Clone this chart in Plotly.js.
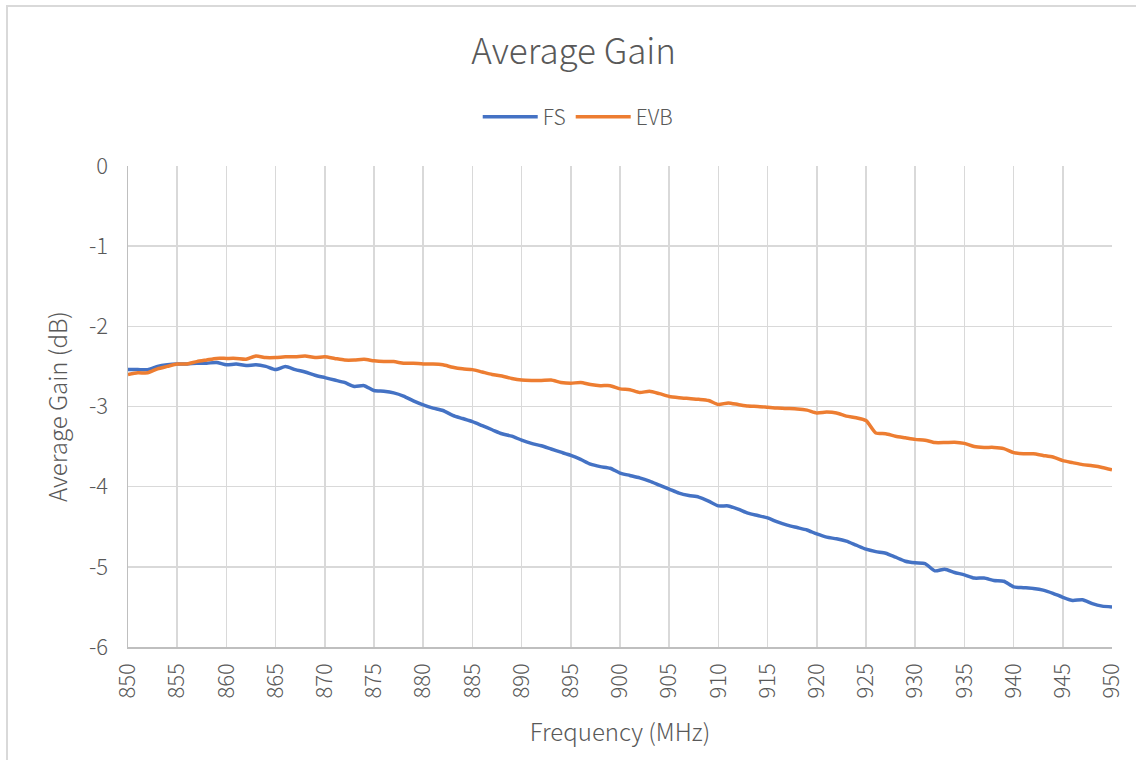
<!DOCTYPE html>
<html>
<head>
<meta charset="utf-8">
<script src="https://cdn.plot.ly/plotly-3.0.1.min.js"></script>
<style>
html,body{margin:0;padding:0;background:#fff;overflow:hidden;}
#chart{position:absolute;left:0;top:0;width:1136px;height:760px;}
#frame{position:absolute;left:6px;top:5px;width:1200px;height:800px;border:2px solid #d9d9d9;pointer-events:none;box-sizing:border-box;}
</style>
</head>
<body>
<div id="chart"></div>
<div id="frame"></div>
<script>
const freq = [850,851,852,853,854,855,856,857,858,859,860,861,862,863,864,865,866,867,868,869,
870,871,872,873,874,875,876,877,878,879,880,881,882,883,884,885,886,887,888,889,
890,891,892,893,894,895,896,897,898,899,900,901,902,903,904,905,906,907,908,909,
910,911,912,913,914,915,916,917,918,919,920,921,922,923,924,925,926,927,928,929,
930,931,932,933,934,935,936,937,938,939,940,941,942,943,944,945,946,947,948,949,950];

const fsGain = [-2.54,-2.54,-2.54,-2.50,-2.48,-2.47,-2.47,-2.46,-2.46,-2.45,
-2.48,-2.47,-2.49,-2.48,-2.50,-2.54,-2.50,-2.54,-2.57,-2.61,
-2.64,-2.67,-2.70,-2.75,-2.74,-2.80,-2.81,-2.83,-2.87,-2.93,
-2.98,-3.02,-3.05,-3.11,-3.15,-3.19,-3.24,-3.29,-3.34,-3.37,
-3.42,-3.46,-3.49,-3.53,-3.57,-3.61,-3.66,-3.72,-3.75,-3.77,
-3.83,-3.86,-3.89,-3.93,-3.98,-4.03,-4.08,-4.11,-4.13,-4.18,
-4.24,-4.24,-4.28,-4.33,-4.36,-4.39,-4.44,-4.48,-4.51,-4.54,
-4.59,-4.63,-4.65,-4.68,-4.73,-4.78,-4.81,-4.83,-4.88,-4.93,
-4.95,-4.96,-5.05,-5.03,-5.07,-5.10,-5.14,-5.14,-5.17,-5.18,
-5.25,-5.26,-5.27,-5.29,-5.33,-5.38,-5.42,-5.41,-5.46,-5.49,-5.50];

const evbGain = [-2.60,-2.58,-2.58,-2.53,-2.50,-2.47,-2.47,-2.44,-2.42,-2.40,
-2.40,-2.40,-2.41,-2.37,-2.39,-2.39,-2.38,-2.38,-2.37,-2.39,
-2.38,-2.40,-2.42,-2.42,-2.41,-2.43,-2.44,-2.44,-2.46,-2.46,
-2.47,-2.47,-2.48,-2.51,-2.53,-2.54,-2.57,-2.60,-2.62,-2.65,
-2.67,-2.675,-2.675,-2.67,-2.70,-2.71,-2.70,-2.725,-2.74,-2.74,
-2.78,-2.79,-2.825,-2.81,-2.84,-2.875,-2.89,-2.90,-2.91,-2.925,
-2.975,-2.955,-2.975,-2.995,-3.00,-3.01,-3.02,-3.025,-3.03,-3.045,
-3.08,-3.07,-3.08,-3.12,-3.14,-3.175,-3.33,-3.34,-3.37,-3.39,
-3.41,-3.42,-3.45,-3.45,-3.445,-3.46,-3.50,-3.51,-3.51,-3.525,
-3.575,-3.59,-3.59,-3.61,-3.63,-3.675,-3.70,-3.725,-3.74,-3.76,-3.79];

const xTicks = [850,855,860,865,870,875,880,885,890,895,900,905,910,915,920,925,930,935,940,945,950];
const yTicks = [0,-1,-2,-3,-4,-5,-6];

const FONT = 'DengXian, "Noto Sans CJK SC", "Open Sans", sans-serif';
const TXT = '#595959';
const W = 300;

const traces = [
  {x: freq, y: fsGain, name: 'FS', type: 'scatter', mode: 'lines',
   line: {color: '#4472C4', width: 3.5, shape: 'spline', smoothing: 0.6}},
  {x: freq, y: evbGain, name: 'EVB', type: 'scatter', mode: 'lines',
   line: {color: '#ED7D31', width: 3.5, shape: 'spline', smoothing: 0.6}}
];

const layout = {
  width: 1136, height: 760,
  margin: {l: 128, r: 24, t: 166, b: 113},
  paper_bgcolor: '#ffffff', plot_bgcolor: '#ffffff',
  font: {family: FONT, color: TXT, size: 21, weight: W},
  title: {text: 'Average Gain', font: {family: FONT, size: 35, color: TXT, weight: W},
          xref: 'container', x: 0.505, xanchor: 'center',
          yref: 'container', y: 1 - 52/760, yanchor: 'middle'},
  showlegend: true,
  legend: {orientation: 'h', xref: 'container', x: 0.509, xanchor: 'center',
           yref: 'container', y: 1 - 117/760, yanchor: 'middle',
           font: {family: FONT, size: 21, color: TXT, weight: W}, itemwidth: 55, tracegroupgap: 0},
  xaxis: {
    range: [850, 950], tickvals: xTicks, ticktext: xTicks.map(String),
    tickangle: -90, tickfont: {family: FONT, size: 22, color: TXT, weight: W},
    showgrid: true, gridcolor: '#d9d9d9', gridwidth: 1.5,
    showline: true, linecolor: '#bfbfbf', linewidth: 1.5,
    zeroline: false, ticks: '', ticklabelstandoff: 6,
    title: {text: 'Frequency (MHz)', font: {family: FONT, size: 24, color: TXT, weight: W}, standoff: 26},
    automargin: false, fixedrange: true
  },
  yaxis: {
    range: [-6, 0], tickvals: yTicks, ticktext: yTicks.map(v => v === 0 ? '0' : '-' + Math.abs(v)),
    tickfont: {family: FONT, size: 22, color: TXT, weight: W},
    showgrid: true, gridcolor: '#d9d9d9', gridwidth: 1.5,
    showline: true, linecolor: '#bfbfbf', linewidth: 1.5,
    zeroline: false, ticks: '', ticklabelstandoff: 14,
    title: {text: 'Average Gain (dB)', font: {family: FONT, size: 24, color: TXT, weight: W}, standoff: 14},
    automargin: false, fixedrange: true
  }
};

Plotly.newPlot('chart', traces, layout, {displayModeBar: false, staticPlot: true});
</script>
</body>
</html>
